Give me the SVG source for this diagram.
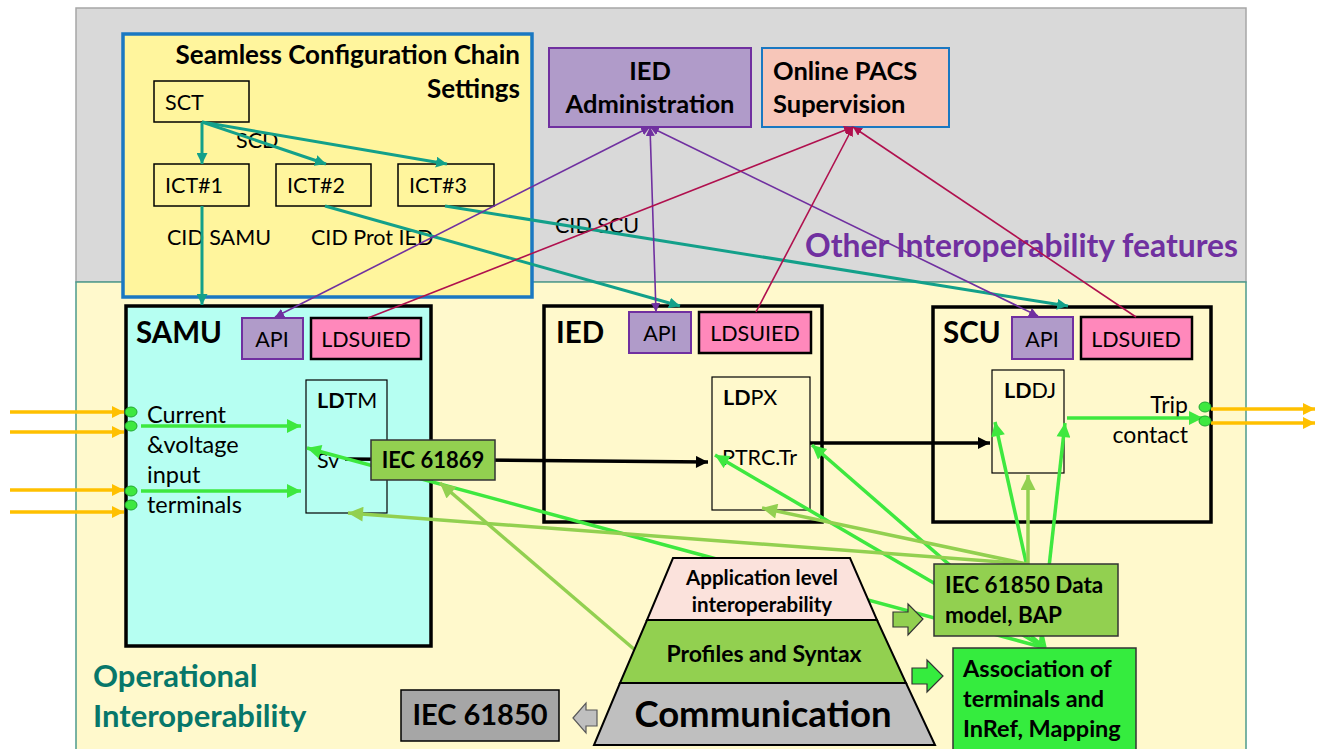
<svg xmlns="http://www.w3.org/2000/svg" width="1322" height="749" viewBox="0 0 1322 749">
  <style>
    text { font-family: Lato, "Open Sans", "Liberation Sans", sans-serif; fill: #000; }
    .b { font-weight: bold; }
    .box { stroke: #000; stroke-width: 1.5; }
    .teal { stroke: #13a08a; stroke-width: 3; fill: none; marker-end: url(#mTeal); }
    .pur { stroke: #7030a0; stroke-width: 1.6; fill: none; marker-start: url(#mPur); marker-end: url(#mPur); }
    .crim { stroke: #b0104e; stroke-width: 1.6; fill: none; marker-start: url(#mCrim); }
    .blk { stroke: #000; stroke-width: 3.5; fill: none; marker-end: url(#mBlk); }
    .bg { stroke: #3ee83f; stroke-width: 3.5; fill: none; marker-end: url(#mBG); }
    .lg { stroke: #92d050; stroke-width: 3.5; fill: none; marker-end: url(#mLG); }
    .org { stroke: #ffc000; stroke-width: 3.5; fill: none; marker-end: url(#mOrg); }
    .dot { fill: #3ee83f; stroke: #22a830; stroke-width: 1; }
    .api { fill: #b09bc9; stroke: #7030a0; stroke-width: 2; }
    .lds { fill: #ff88bb; stroke: #000; stroke-width: 2.5; }
    .dev { stroke: #000; stroke-width: 3.5; }
    .ld { stroke: #000; stroke-width: 1.2; }
  </style>
  <defs>
    <marker id="mTeal" viewBox="0 0 10 10" refX="10" refY="5" markerUnits="userSpaceOnUse" markerWidth="11" markerHeight="11" orient="auto-start-reverse">
      <path d="M0,0 L10,5 L0,10 z" fill="#13a08a"/>
    </marker>
    <marker id="mPur" viewBox="0 0 10 10" refX="10" refY="5" markerUnits="userSpaceOnUse" markerWidth="9" markerHeight="9" orient="auto-start-reverse">
      <path d="M0,0 L10,5 L0,10 z" fill="#7030a0"/>
    </marker>
    <marker id="mCrim" viewBox="0 0 10 10" refX="10" refY="5" markerUnits="userSpaceOnUse" markerWidth="9" markerHeight="9" orient="auto-start-reverse">
      <path d="M0,0 L10,5 L0,10 z" fill="#b0104e"/>
    </marker>
    <marker id="mBlk" viewBox="0 0 10 10" refX="10" refY="5" markerUnits="userSpaceOnUse" markerWidth="14" markerHeight="12" orient="auto-start-reverse">
      <path d="M0,0 L10,5 L0,10 z" fill="#000"/>
    </marker>
    <marker id="mBG" viewBox="0 0 10 10" refX="10" refY="5" markerUnits="userSpaceOnUse" markerWidth="16" markerHeight="14" orient="auto-start-reverse">
      <path d="M0,0 L10,5 L0,10 z" fill="#3ee83f"/>
    </marker>
    <marker id="mLG" viewBox="0 0 10 10" refX="10" refY="5" markerUnits="userSpaceOnUse" markerWidth="16" markerHeight="15" orient="auto-start-reverse">
      <path d="M0,0 L10,5 L0,10 z" fill="#92d050"/>
    </marker>
    <marker id="mOrg" viewBox="0 0 10 10" refX="10" refY="5" markerUnits="userSpaceOnUse" markerWidth="14" markerHeight="12" orient="auto-start-reverse">
      <path d="M0,0 L10,5 L0,10 z" fill="#ffc000"/>
    </marker>
  </defs>

  <rect width="1322" height="749" fill="#fff"/>

  <!-- upper band: other interoperability features -->
  <g id="band-other">
    <rect x="76" y="8" width="1170" height="274" fill="#d9d9d9" stroke="#a6a6a6" stroke-width="1.5"/>
    <text x="805" y="257" class="b" font-size="31.8" style="fill:#7030a0">Other Interoperability features</text>
  </g>

  <!-- lower band: operational interoperability -->
  <g id="band-operational">
    <rect x="76" y="282" width="1170" height="480" fill="#fff9cc" stroke="#4e9a8c" stroke-width="1.5"/>
    <text class="b" font-size="31" style="fill:#07776a"><tspan x="93" y="687">Operational</tspan><tspan x="93" y="727">Interoperability</tspan></text>
  </g>

  <!-- configuration chain -->
  <g id="config-chain">
    <rect x="123" y="34" width="409" height="263" fill="#fff59d" stroke="#1a78c2" stroke-width="3.5"/>
    <text class="b" font-size="26" text-anchor="end"><tspan x="520" y="64">Seamless Configuration Chain</tspan><tspan x="520" y="98">Settings</tspan></text>
    <text x="236" y="148" font-size="21.5">SCD</text>
    <text x="167" y="245" font-size="21.5">CID SAMU</text>
    <text x="311" y="245" font-size="21.5">CID Prot IED</text>
  </g>
  <g id="sct">
    <rect x="154" y="81" width="95" height="41" fill="#fff59d" class="box"/>
    <text x="165" y="110" font-size="21.5">SCT</text>
  </g>
  <g id="ict1">
    <rect x="154" y="164" width="95" height="42" fill="#fff59d" class="box"/>
    <text x="165" y="193" font-size="21.5">ICT#1</text>
  </g>
  <g id="ict2">
    <rect x="276" y="164" width="95" height="42" fill="#fff59d" class="box"/>
    <text x="287" y="193" font-size="21.5">ICT#2</text>
  </g>
  <g id="ict3">
    <rect x="398" y="164" width="96" height="42" fill="#fff59d" class="box"/>
    <text x="409" y="193" font-size="21.5">ICT#3</text>
  </g>
  <text x="555" y="233" font-size="21.5">CID SCU</text>

  <!-- supervision boxes -->
  <g id="ied-admin">
    <rect x="549" y="48" width="202" height="79" fill="#b09bc9" stroke="#7030a0" stroke-width="2"/>
    <text class="b" font-size="25.5" text-anchor="middle"><tspan x="650" y="80">IED</tspan><tspan x="650" y="113">Administration</tspan></text>
  </g>
  <g id="pacs">
    <rect x="762" y="48" width="187" height="79" fill="#f7c6b9" stroke="#1a78c2" stroke-width="2"/>
    <text class="b" font-size="25.5"><tspan x="773" y="80">Online PACS</tspan><tspan x="773" y="113">Supervision</tspan></text>
  </g>

  <!-- SAMU -->
  <g id="samu">
    <rect x="126" y="306" width="305" height="340" fill="#b6fff2" class="dev"/>
    <text x="136" y="343" class="b" font-size="29.5">SAMU</text>
    <rect x="242" y="318" width="61" height="41" class="api"/>
    <text x="272" y="347" font-size="21.5" text-anchor="middle">API</text>
    <rect x="311" y="318" width="110" height="41" class="lds"/>
    <text x="366" y="347" font-size="21.5" text-anchor="middle">LDSUIED</text>
    <rect x="306" y="380" width="81" height="133" fill="#b6fff2" class="ld"/>
    <text x="317" y="408" font-size="21.5"><tspan class="b">LD</tspan>TM</text>
    <text x="317" y="468" font-size="21.5">Sv</text>
    <text font-size="23.5"><tspan x="147" y="423">Current</tspan><tspan x="147" y="453">&amp;voltage</tspan><tspan x="147" y="483">input</tspan><tspan x="147" y="513">terminals</tspan></text>
  </g>

  <!-- IED -->
  <g id="ied">
    <rect x="544" y="306" width="278" height="216" fill="none" class="dev"/>
    <text x="556" y="343" class="b" font-size="29.5">IED</text>
    <rect x="629" y="312" width="62" height="41" class="api"/>
    <text x="660" y="341" font-size="21.5" text-anchor="middle">API</text>
    <rect x="699" y="312" width="112" height="41" class="lds"/>
    <text x="755" y="341" font-size="21.5" text-anchor="middle">LDSUIED</text>
    <rect x="712" y="377" width="98" height="133" fill="#fff9cc" class="ld"/>
    <text x="723" y="405" font-size="21.5"><tspan class="b">LD</tspan>PX</text>
    <text x="722" y="465" font-size="21.5">PTRC.Tr</text>
  </g>

  <!-- SCU -->
  <g id="scu">
    <rect x="933" y="307" width="278" height="215" fill="none" class="dev"/>
    <text x="943" y="343" class="b" font-size="29.5">SCU</text>
    <rect x="1012" y="317" width="61" height="42" class="api"/>
    <text x="1042" y="347" font-size="21.5" text-anchor="middle">API</text>
    <rect x="1081" y="317" width="111" height="42" class="lds"/>
    <text x="1136" y="347" font-size="21.5" text-anchor="middle">LDSUIED</text>
    <rect x="992" y="370" width="72" height="103" fill="#fff9cc" class="ld"/>
    <text x="1004" y="398" font-size="21.5"><tspan class="b">LD</tspan>DJ</text>
    <text font-size="23" text-anchor="end"><tspan x="1188" y="413">Trip</tspan><tspan x="1188" y="443">contact</tspan></text>
  </g>

  <!-- connectors -->
  <g id="connectors">
    <!-- configuration files -->
    <line x1="202" y1="122" x2="202" y2="164" class="teal"/>
    <line x1="202" y1="122" x2="326" y2="164" class="teal"/>
    <line x1="202" y1="122" x2="447" y2="164" class="teal"/>
    <line x1="202" y1="206" x2="202" y2="305" class="teal"/>
    <line x1="325" y1="206" x2="680" y2="306" class="teal"/>
    <line x1="445" y1="206" x2="1068" y2="306" class="teal"/>

    <!-- administration / supervision -->
    <line x1="650" y1="127" x2="275" y2="317" class="pur"/>
    <line x1="650" y1="127" x2="656" y2="312" class="pur"/>
    <line x1="650" y1="127" x2="1038" y2="316" class="pur"/>
    <line x1="853" y1="127" x2="368" y2="318" class="crim"/>
    <line x1="853" y1="127" x2="756" y2="312" class="crim"/>
    <line x1="853" y1="127" x2="1136" y2="317" class="crim"/>

    <!-- process I/O -->
    <line x1="10" y1="412" x2="124" y2="412" class="org"/>
    <line x1="10" y1="432" x2="124" y2="432" class="org"/>
    <line x1="10" y1="490" x2="124" y2="490" class="org"/>
    <line x1="10" y1="512" x2="124" y2="512" class="org"/>
    <line x1="1211" y1="409" x2="1315" y2="409" class="org"/>
    <line x1="1211" y1="423" x2="1315" y2="423" class="org"/>
    <line x1="141" y1="426" x2="301" y2="426" class="bg"/>
    <line x1="141" y1="491" x2="301" y2="491" class="bg"/>
    <line x1="1067" y1="418" x2="1203" y2="418" class="bg"/>

    <!-- signal flow -->
    <line x1="345" y1="459" x2="708" y2="462" class="blk"/>
    <line x1="810" y1="443" x2="990" y2="443" class="blk"/>

    <!-- terminal association -->
    <line x1="1045" y1="648" x2="307" y2="448" class="bg"/>
    <line x1="1045" y1="648" x2="715" y2="455" class="bg"/>
    <line x1="1045" y1="648" x2="812" y2="445" class="bg"/>
    <line x1="1045" y1="648" x2="995" y2="422" class="bg"/>
    <line x1="1040" y1="648" x2="1065" y2="423" class="bg"/>

    <!-- data model -->
    <line x1="1027" y1="564" x2="348" y2="513" class="lg"/>
    <line x1="1027" y1="564" x2="762" y2="508" class="lg"/>
    <line x1="1028" y1="564" x2="1028" y2="475" class="lg"/>
    <line x1="635" y1="650" x2="440" y2="483" class="lg"/>

    <!-- terminal dots -->
    <ellipse cx="131" cy="412" rx="6" ry="5" class="dot"/>
    <ellipse cx="131" cy="426" rx="6" ry="5" class="dot"/>
    <ellipse cx="131" cy="491" rx="6" ry="5" class="dot"/>
    <ellipse cx="131" cy="505" rx="6" ry="5" class="dot"/>
    <ellipse cx="1205" cy="407" rx="6" ry="5" class="dot"/>
    <ellipse cx="1205" cy="421" rx="6" ry="5" class="dot"/>
  </g>

  <!-- sampled values standard -->
  <g id="iec61869">
    <rect x="371" y="440" width="124" height="40" fill="#92d050" stroke="#333" stroke-width="1.5"/>
    <text x="433" y="468" class="b" font-size="22" text-anchor="middle">IEC 61869</text>
  </g>

  <!-- interoperability pyramid -->
  <g id="pyramid">
    <polygon points="673,558 850,558 877,620 647,620" fill="#fbe2dc" stroke="#000" stroke-width="2"/>
    <polygon points="647,620 877,620 906,683 620,683" fill="#92d050" stroke="#000" stroke-width="2"/>
    <polygon points="620,683 906,683 935,745 594,745" fill="#bfbfbf" stroke="#000" stroke-width="2"/>
    <text class="b" font-size="20.5" text-anchor="middle"><tspan x="762" y="585">Application level</tspan><tspan x="762" y="612">interoperability</tspan></text>
    <text x="764" y="662" class="b" font-size="23" text-anchor="middle">Profiles and Syntax</text>
    <text x="763" y="727" class="b" font-size="36.5" text-anchor="middle">Communication</text>
  </g>

  <g id="iec61850">
    <rect x="401" y="690" width="158" height="51" fill="#a6a6a6" stroke="#000" stroke-width="1.5"/>
    <text x="480" y="725" class="b" font-size="29" text-anchor="middle">IEC 61850</text>
    <polygon points="573,718 586,703 586,710 597,710 597,726 586,726 586,733" fill="#bfbfbf" stroke="#595959" stroke-width="1.2"/>
  </g>

  <g id="data-model">
    <rect x="934" y="564" width="184" height="72" fill="#92d050" stroke="#333" stroke-width="1.5"/>
    <text class="b" font-size="22.5"><tspan x="945" y="593">IEC 61850 Data</tspan><tspan x="945" y="623">model, BAP</tspan></text>
    <polygon points="893,612 908,612 908,604 923,619 908,635 908,627 893,627" fill="#92d050" stroke="#333" stroke-width="1.2"/>
  </g>

  <g id="association">
    <rect x="953" y="648" width="183" height="115" fill="#35ec3e" stroke="#333" stroke-width="1.5"/>
    <text class="b" font-size="23.5"><tspan x="963" y="677">Association of</tspan><tspan x="963" y="707">terminals and</tspan><tspan x="963" y="737">InRef, Mapping</tspan></text>
    <polygon points="912,668 927,668 927,660 943,676 927,692 927,684 912,684" fill="#35ec3e" stroke="#333" stroke-width="1.2"/>
  </g>
</svg>
